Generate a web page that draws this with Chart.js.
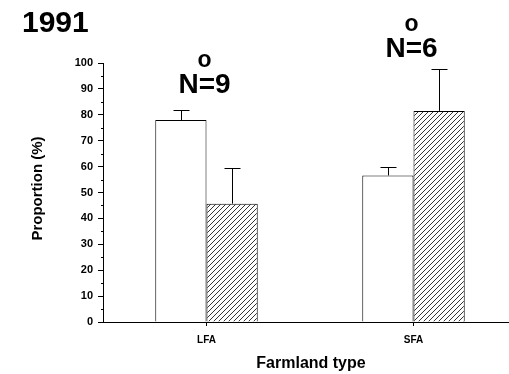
<!DOCTYPE html>
<html>
<head>
<meta charset="utf-8">
<script src="https://cdn.jsdelivr.net/npm/chart.js@4/dist/chart.umd.min.js"></script>
<style>
html,body{margin:0;padding:0;background:#fff;overflow:hidden;}
#wrap{position:relative;width:520px;height:374px;}
</style>
</head>
<body>
<div id="wrap"><canvas id="c" width="520" height="374"></canvas></div>
<script>
// ---- data ----
const categories = ['LFA', 'SFA'];
const openValues = [78.0, 56.6];
const openErrors = [3.9, 3.2];
const hatchedValues = [45.7, 81.5];
const hatchedErrors = [13.9, 16.2];
const sampleNotes = ['N=9', 'N=6'];
const sigMarks = ['o', 'o'];
const noteLevel = [88.4, 102.3];
const yMin = 0, yMax = 100, yStep = 10, yMinorStep = 5;
const panelTitle = '1991';
const xTitle = 'Farmland type';
const yTitle = 'Proportion (%)';

const FONT = 'Liberation Sans, Arial, Helvetica, sans-serif';

function hatchPattern() {
  const s = 5;
  const pc = document.createElement('canvas');
  pc.width = s; pc.height = s;
  const p = pc.getContext('2d');
  p.fillStyle = '#fff';
  p.fillRect(0, 0, s, s);
  p.strokeStyle = '#000';
  p.lineWidth = 0.8;
  p.beginPath();
  p.moveTo(0, s); p.lineTo(s, 0);
  p.moveTo(-1, 1); p.lineTo(1, -1);
  p.moveTo(s - 1, s + 1); p.lineTo(s + 1, s - 1);
  p.stroke();
  return document.getElementById('c').getContext('2d').createPattern(pc, 'repeat');
}

const errorSets = [openErrors, hatchedErrors];

const errorBars = {
  id: 'errorBars',
  afterDatasetsDraw(chart) {
    const ctx = chart.ctx;
    const ys = chart.scales.y;
    ctx.save();
    ctx.strokeStyle = '#000';
    ctx.lineWidth = 1;
    chart.data.datasets.forEach((ds, i) => {
      const meta = chart.getDatasetMeta(i);
      meta.data.forEach((el, j) => {
        const v = ds.data[j];
        const e = errorSets[i][j];
        const x = Math.round(el.x) + 0.5;
        const y0 = el.y;
        const y1 = Math.round(ys.getPixelForValue(v + e)) + 0.5;
        ctx.beginPath();
        ctx.moveTo(x, y0);
        ctx.lineTo(x, y1);
        ctx.moveTo(x - 8, y1);
        ctx.lineTo(x + 8, y1);
        ctx.stroke();
      });
    });
    ctx.restore();
  }
};

const decorations = {
  id: 'decorations',
  afterDraw(chart) {
    const ctx = chart.ctx;
    const ys = chart.scales.y;
    const xs = chart.scales.x;
    const area = chart.chartArea;
    ctx.save();
    // minor y ticks
    ctx.strokeStyle = '#000';
    ctx.lineWidth = 1;
    for (let v = yMin + yMinorStep; v < yMax; v += yStep) {
      const y = Math.round(ys.getPixelForValue(v)) + 0.5;
      ctx.beginPath();
      ctx.moveTo(area.left - 2, y);
      ctx.lineTo(area.left, y);
      ctx.stroke();
    }
    ctx.fillStyle = '#000';
    // panel title
    ctx.font = 'bold 30px ' + FONT;
    ctx.textAlign = 'left';
    ctx.textBaseline = 'alphabetic';
    ctx.fillText(panelTitle, 22, 32);
    // axis titles
    ctx.font = 'bold 16px ' + FONT;
    ctx.textAlign = 'center';
    ctx.fillText(xTitle, (area.left + area.right) / 2 + 1, 368);
    ctx.save();
    ctx.translate(42, (area.top + area.bottom) / 2 - 4);
    ctx.rotate(-Math.PI / 2);
    ctx.font = 'bold 15px ' + FONT;
    ctx.fillText(yTitle, 0, 0);
    ctx.restore();
    // annotations
    categories.forEach((c, j) => {
      const x = xs.getPixelForValue(j) - 2;
      const yb = ys.getPixelForValue(noteLevel[j]);
      ctx.font = 'bold 28px ' + FONT;
      ctx.textAlign = 'center';
      ctx.fillText(sampleNotes[j], x, yb);
      ctx.font = 'bold 23px ' + FONT;
      ctx.fillText(sigMarks[j], x, yb - 26);
    });
    ctx.restore();
  }
};

new Chart(document.getElementById('c'), {
  type: 'bar',
  data: {
    labels: categories,
    datasets: [
      { label: 'open', data: openValues, backgroundColor: '#fff', borderColor: '#000', borderWidth: 1,
        categoryPercentage: 0.495, barPercentage: 1.0 },
      { label: 'hatched', data: hatchedValues, backgroundColor: hatchPattern(), borderColor: '#000', borderWidth: 1,
        categoryPercentage: 0.495, barPercentage: 1.0 }
    ]
  },
  options: {
    responsive: false,
    animation: false,
    devicePixelRatio: 1,
    layout: { padding: { top: 63, right: 3, left: 0, bottom: 0 } },
    plugins: { legend: { display: false }, tooltip: { enabled: false }, title: { display: false } },
    scales: {
      x: {
        afterFit(s) { s.height = 52; },
        grid: { offset: false, drawOnChartArea: false, tickLength: 4, color: '#000' },
        border: { color: '#000', width: 1 },
        ticks: { color: '#000', font: { family: FONT, size: 10, weight: 'bold' }, padding: 8 }
      },
      y: {
        min: yMin, max: yMax,
        afterFit(s) { s.width = 103; },
        grid: { drawOnChartArea: false, tickLength: 5, color: '#000' },
        border: { color: '#000', width: 1 },
        ticks: { stepSize: yStep, color: '#000', font: { family: FONT, size: 11, weight: 'bold' }, padding: 5 }
      }
    }
  },
  plugins: [errorBars, decorations]
});
</script>
</body>
</html>
